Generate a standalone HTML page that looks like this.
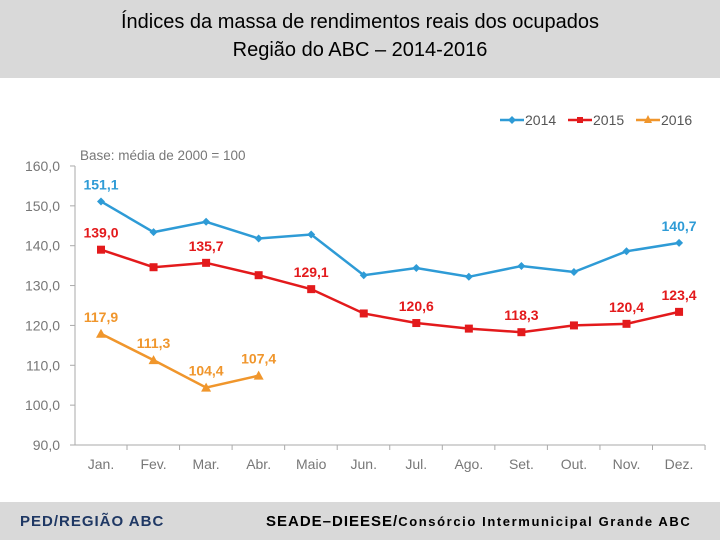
<!DOCTYPE html>
<html><head><meta charset="utf-8"><style>
body{margin:0;width:720px;height:540px;overflow:hidden;background:#fff;font-family:"Liberation Sans",sans-serif}
#hdr{position:absolute;left:0;top:0;width:720px;height:78px;background:#d9d9d9;text-align:center;font-size:20px;line-height:28px;padding-top:8px;box-sizing:border-box;color:#000}
#ftr{position:absolute;left:0;top:502px;width:720px;height:38px;background:#d9d9d9;font-size:15px;font-weight:bold}
</style></head><body>
<div id="hdr">Índices da massa de rendimentos reais dos ocupados<br>Região do ABC – 2014-2016</div>
<svg id="c" width="720" height="540" style="position:absolute;left:0;top:0"></svg>
<div id="ftr">
<span style="position:absolute;left:20px;top:11px;color:#1f3864;letter-spacing:1px">PED/REGIÃO ABC</span>
<span style="position:absolute;left:266px;top:11px;color:#000;letter-spacing:1px">SEADE–DIEESE/<span style="font-size:13px;letter-spacing:1.6px">Consórcio Intermunicipal Grande ABC</span></span>
</div>
<script>
const categories=["Jan.","Fev.","Mar.","Abr.","Maio","Jun.","Jul.","Ago.","Set.","Out.","Nov.","Dez."];
const s2014=[151.1,143.4,146.0,141.8,142.8,132.6,134.4,132.2,134.9,133.4,138.6,140.7];
const s2015=[139.0,134.6,135.7,132.6,129.1,123.0,120.6,119.2,118.3,120.0,120.4,123.4];
const s2016=[117.9,111.3,104.4,107.4];
const yTicks=[90,100,110,120,130,140,150,160];
const labels2014={0:"151,1",11:"140,7"};
const labels2015={0:"139,0",2:"135,7",4:"129,1",6:"120,6",8:"118,3",10:"120,4",11:"123,4"};
const labels2016={0:"117,9",1:"111,3",2:"104,4",3:"107,4"};
const NS="http://www.w3.org/2000/svg",svg=document.getElementById('c');
const x=i=>101+i*52.55, y=v=>445-(v-90)*3.986;
function el(t,a,p){const e=document.createElementNS(NS,t);for(const k in a)e.setAttribute(k,a[k]);(p||svg).appendChild(e);return e;}
let e;
e=el('line',{x1:75,y1:166,x2:75,y2:445,stroke:'#aaa'});


e=el('line',{x1:75,y1:445,x2:705,y2:445,stroke:'#aaa'});


yTicks.forEach(v=>{
 el('line',{x1:70,y1:y(v),x2:75,y2:y(v),stroke:'#aaa'});
 e=el('text',{x:60,y:y(v)+5,'text-anchor':'end','font-size':14,fill:'#777'});e.textContent=v.toFixed(1).replace('.',',');
 
 
});
categories.forEach((c,i)=>{
 el('line',{x1:x(i)+26,y1:445,x2:x(i)+26,y2:450,stroke:'#aaa'});
 e=el('text',{x:x(i),y:469,'text-anchor':'middle','font-size':14,fill:'#777'});e.textContent=c;
 
 
});
e=el('text',{x:80,y:160,'font-size':13.5,fill:'#777'});e.textContent="Base: média de 2000 = 100";


function series(vals,col,name,marker,labels,dy){
 const g=el('g',{});
 
 
 el('polyline',{points:vals.map((v,i)=>x(i)+','+y(v)).join(' '),fill:'none',stroke:col,'stroke-width':2.5},g);
 vals.forEach((v,i)=>{
  let m;
  if(marker==='sq')m=el('rect',{x:x(i)-4,y:y(v)-4,width:8,height:8,fill:col},g);
  else if(marker==='tri')m=el('polygon',{points:`${x(i)},${y(v)-5} ${x(i)+5},${y(v)+4} ${x(i)-5},${y(v)+4}`,fill:col},g);
  else m=el('polygon',{points:`${x(i)},${y(v)-4} ${x(i)+4},${y(v)} ${x(i)},${y(v)+4} ${x(i)-4},${y(v)}`,fill:col},g);
  
  
  if(labels[i]){const t=el('text',{x:x(i),y:y(v)+dy,'text-anchor':'middle','font-size':14,'font-weight':'bold',fill:col},g);t.textContent=labels[i];
   
   }
 });
}
series(s2014,'#2e9bd6','2014','dia',labels2014,-12);
series(s2015,'#e31a1c','2015','sq',labels2015,-12);
series(s2016,'#f0962c','2016','tri',labels2016,-12);
[['2014','#2e9bd6','dia',500],['2015','#e31a1c','sq',568],['2016','#f0962c','tri',636]].forEach(([n,c,m,lx])=>{
 const g=el('g',{});
 
 
 el('line',{x1:lx,y1:120,x2:lx+24,y2:120,stroke:c,'stroke-width':2.5},g);
 if(m==='sq')el('rect',{x:lx+9,y:117,width:6,height:6,fill:c},g);
 else if(m==='tri')el('polygon',{points:`${lx+12},115 ${lx+16},123 ${lx+8},123`,fill:c},g);
 else el('polygon',{points:`${lx+12},116 ${lx+16},120 ${lx+12},124 ${lx+8},120`,fill:c},g);
 const t=el('text',{x:lx+25,y:125,'font-size':14,fill:'#555'},g);t.textContent=n;
});
</script>
</body></html>
